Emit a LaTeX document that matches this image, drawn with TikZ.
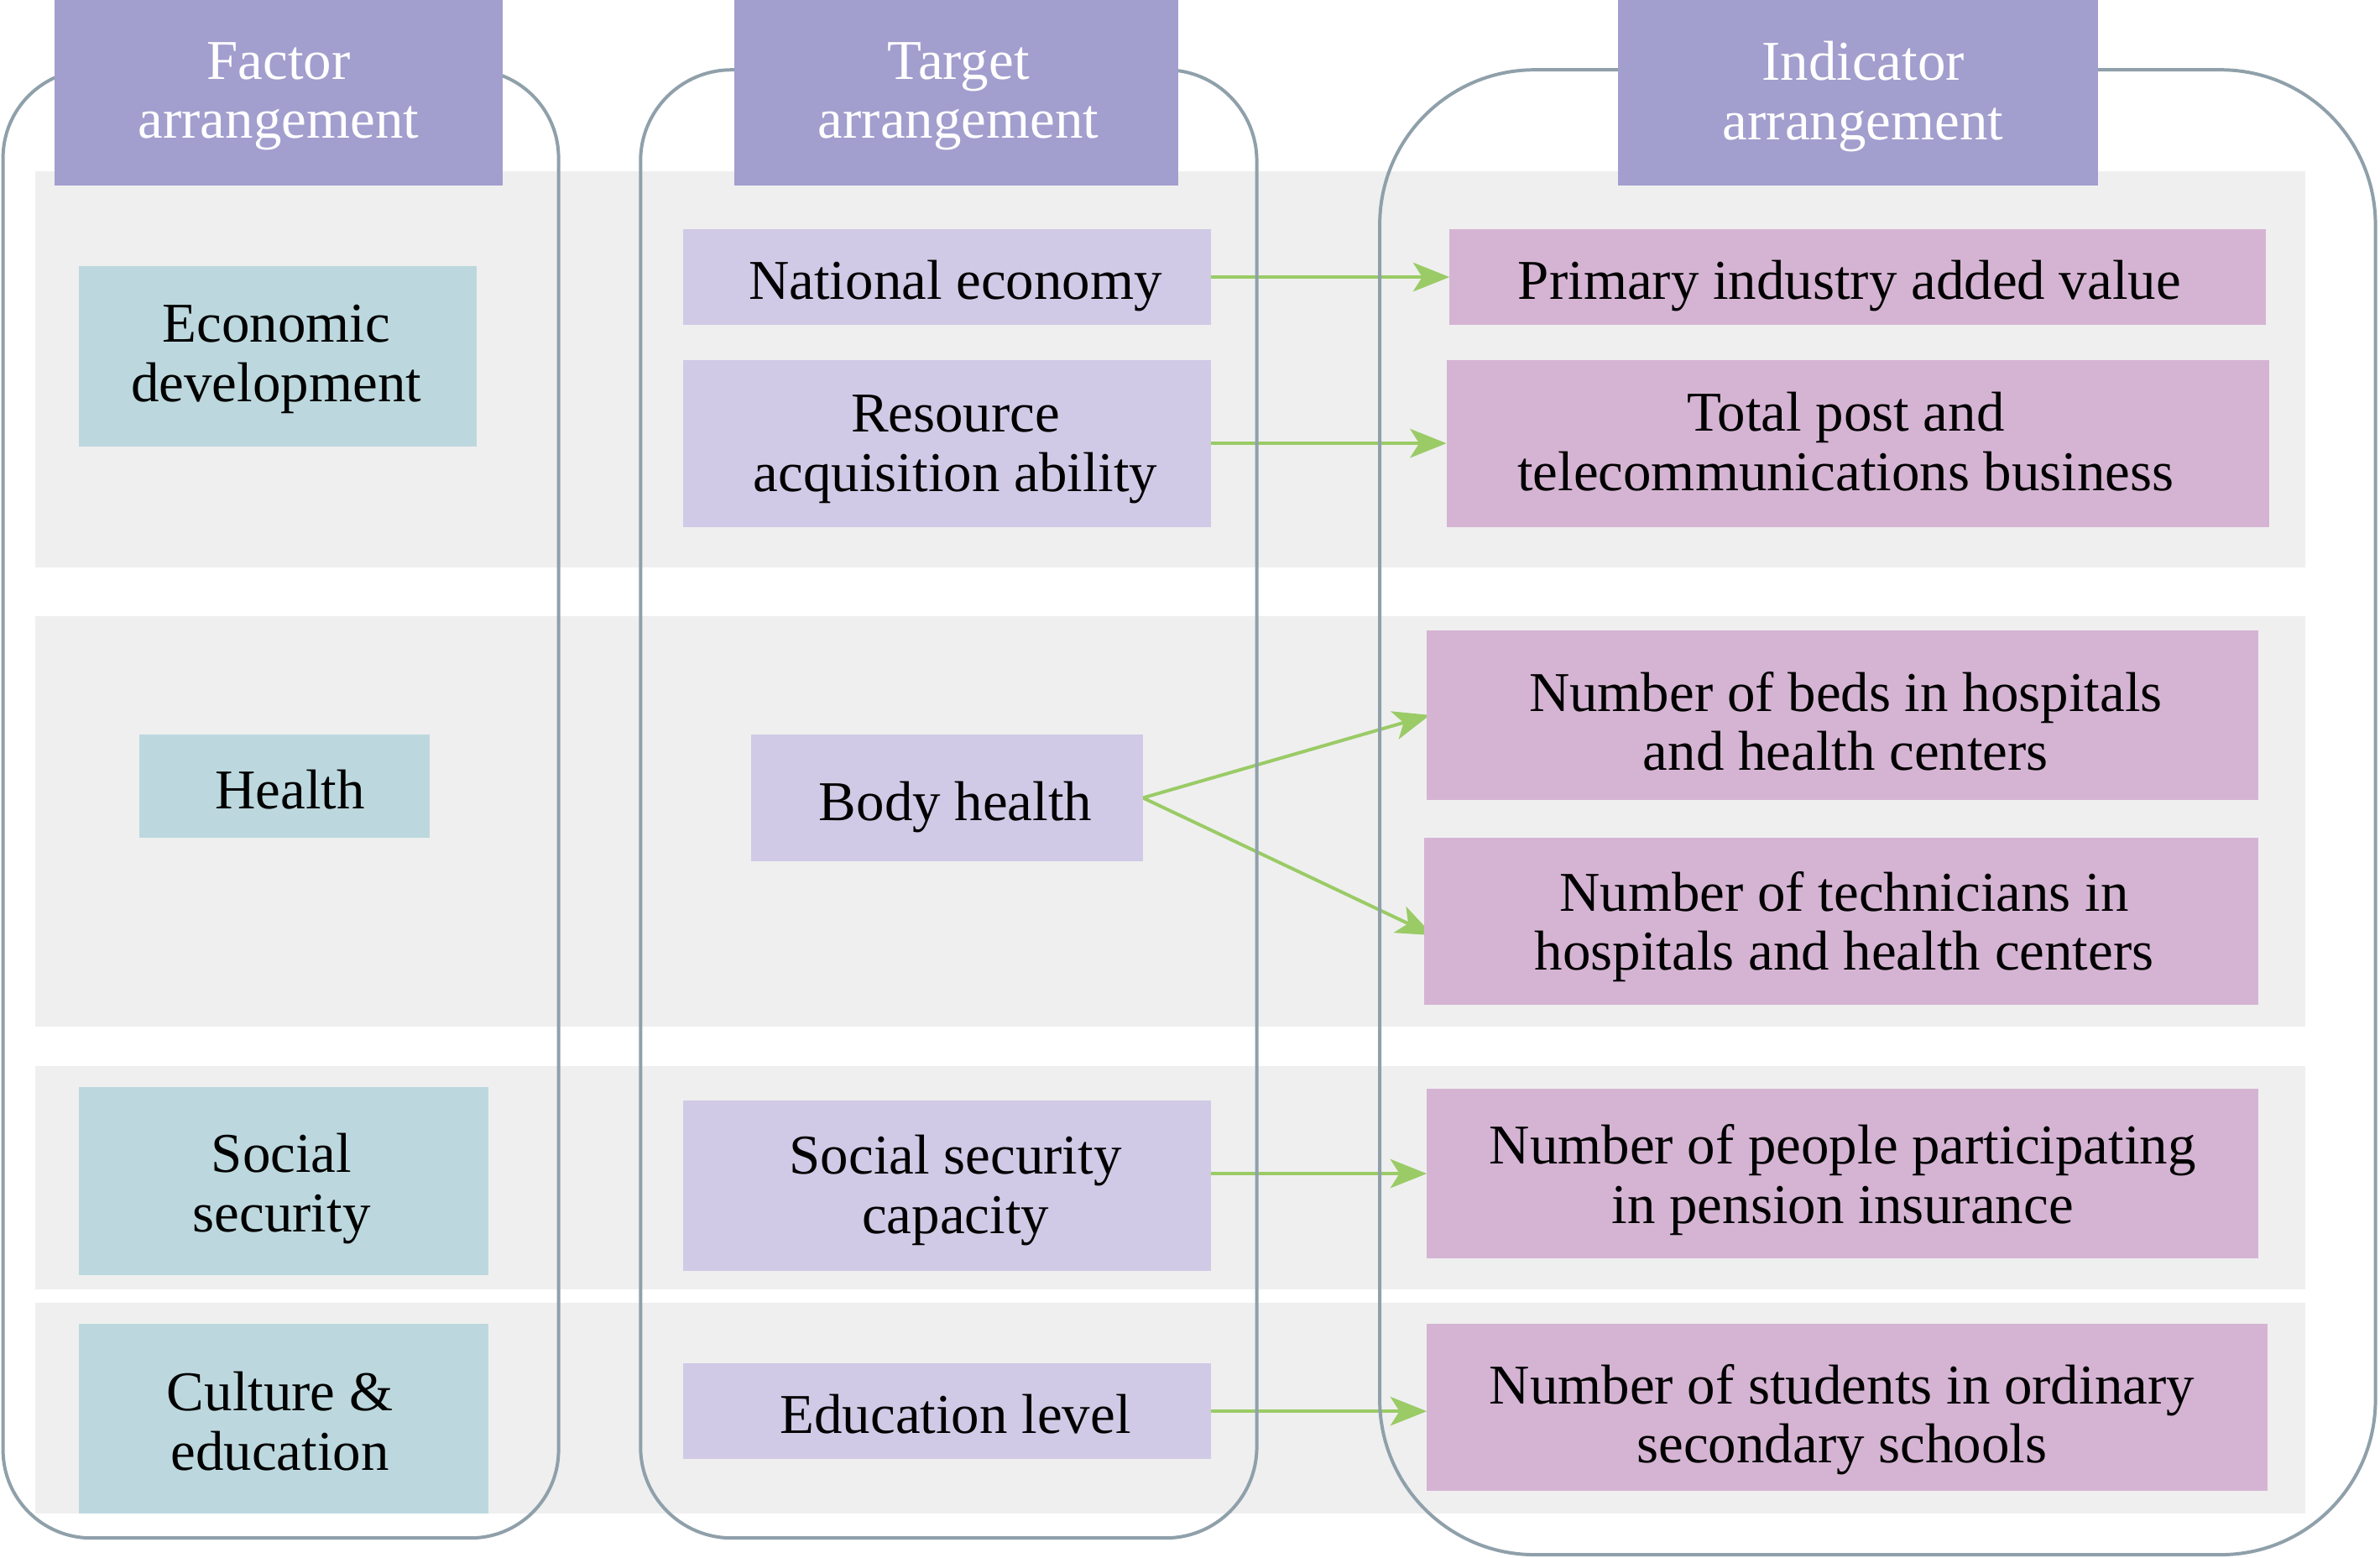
\documentclass[tikz,border=0pt]{standalone}
\usepackage{fontspec}
\setmainfont{Liberation Serif}
\usetikzlibrary{arrows.meta}
\definecolor{hdr}{RGB}{162,158,206}
\definecolor{fac}{RGB}{188,216,222}
\definecolor{tgt}{RGB}{208,202,230}
\definecolor{ind}{RGB}{213,180,211}
\definecolor{band}{RGB}{239,239,239}
\definecolor{colline}{RGB}{143,160,170}
\definecolor{arrg}{RGB}{154,203,102}
\pgfdeclarelayer{bg}\pgfdeclarelayer{arr}\pgfdeclarelayer{cols}
\pgfsetlayers{bg,arr,cols,main}
% \bx{name}{x1}{y1}{x2}{y2}{style}{text dx}{text dy}{text}
\newcommand{\bx}[9]{%
  \node[#6, minimum width={(#4-#2)*0.5pt}, minimum height={(#5-#3)*0.5pt}] (#1) at ({(#2+#4)/2},{(#3+#5)/2}) {};%
  \node[#6, fill=none] at ([xshift={(#7)*0.5pt}, yshift={-(#8)*0.5pt}]#1.center) {#9};}
\tikzset{
 boxbase/.style={inner sep=0pt, outer sep=0pt, align=center, font=\fontsize{18.5}{19.5}\selectfont},
 hdrbox/.style={boxbase, fill=hdr, text=white},
 facbox/.style={boxbase, fill=fac},
 tgtbox/.style={boxbase, fill=tgt},
 indbox/.style={boxbase, fill=ind},
 bandbox/.style={fill=band},
 colbox/.style={draw=colline, line width=1.1pt},
 link/.style={draw=arrg, line width=1.1pt, -{Stealth[length=12pt,width=9.5pt,inset=3pt]}}
}
\begin{document}
\begin{tikzpicture}[x=0.5pt,y=-0.5pt]
\useasboundingbox (0,0) rectangle (1568,1026);
% headers
\bx{h1}{36}{0}{331}{122}{hdrbox}{0}{2.5}{Factor\\arrangement}
\bx{h2}{484}{0}{776}{122}{hdrbox}{1.5}{2.5}{Target\\arrangement}
\bx{h3}{1066}{0}{1382}{122}{hdrbox}{3.5}{2.5}{Indicator\\arrangement}
% factors
\bx{f1}{52}{175}{314}{294}{facbox}{-1}{2}{Economic\\development}
\bx{f2}{92}{484}{283}{552}{facbox}{3.5}{2}{Health}
\bx{f3}{52}{716}{322}{840}{facbox}{-1.5}{5}{Social\\security}
\bx{f4}{52}{872}{322}{997}{facbox}{-2.5}{1.5}{Culture \&\\education}
% targets
\bx{t1}{450}{151}{798}{214}{tgtbox}{5.5}{6}{National economy}
\bx{t2}{450}{237}{798}{347}{tgtbox}{5.5}{4}{Resource\\acquisition ability}
\bx{t3}{495}{484}{753}{567}{tgtbox}{5.5}{6}{Body health}
\bx{t4}{450}{725}{798}{837}{tgtbox}{5.5}{3}{Social security\\capacity}
\bx{t5}{450}{898}{798}{961}{tgtbox}{5.5}{2}{Education level}
% indicators
\bx{i1}{955}{151}{1493}{214}{indbox}{-5.5}{6}{Primary industry added value}
\bx{i2}{953}{237}{1495}{347}{indbox}{-8}{-1}{Total post and\\telecommunications business}
\bx{i3}{940}{415}{1488}{527}{indbox}{2}{4}{Number of beds in hospitals\\and health centers}
\bx{i4}{938}{552}{1488}{662}{indbox}{2}{3.5}{Number of technicians in\\hospitals and health centers}
\bx{i5}{940}{717}{1488}{829}{indbox}{0}{4}{Number of people participating\\in pension insurance}
\bx{i6}{940}{872}{1494}{982}{indbox}{-3.5}{8}{Number of students in ordinary\\secondary schools}
\begin{pgfonlayer}{bg}
\fill[bandbox] (23,113) rectangle (1519,374);
\fill[bandbox] (23,406) rectangle (1519,676);
\fill[bandbox] (23,702) rectangle (1519,849);
\fill[bandbox] (23,858) rectangle (1519,997);
\end{pgfonlayer}
\begin{pgfonlayer}{cols}
\draw[colbox, rounded corners=29pt] (2,46) rectangle (368,1013);
\draw[colbox, rounded corners=30pt] (422,46) rectangle (828,1013);
\draw[colbox, rounded corners=51pt] (909,46) rectangle (1565,1024);
\end{pgfonlayer}
\begin{pgfonlayer}{arr}
\draw[link] (t1.east) -- (i1.west);
\draw[link] (t2.east) -- (i2.west);
\draw[link] (t3.east) -- ([xshift=1pt]i3.west);
\draw[link] (t3.east) -- ([xshift=3pt,yshift=-4.5pt]i4.west);
\draw[link] (t4.east |- i5.west) -- (i5.west);
\draw[link] (t5.east) -- (t5.east -| i6.west);
\end{pgfonlayer}
\end{tikzpicture}
\end{document}
